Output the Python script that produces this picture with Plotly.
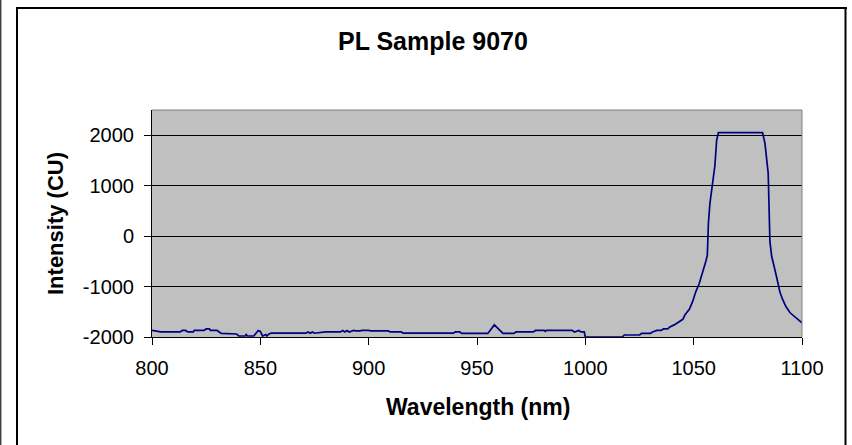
import plotly.graph_objects as go

# Data
wavelength = [800, 802, 804, 813, 814, 815.5, 816.5, 819, 819.5, 824, 825, 826.5, 827, 830,
              832, 839, 840, 843, 843.5, 844, 847, 849, 850, 851, 852.5, 853, 854, 855,
              871, 872, 873, 874, 875, 880, 887, 888, 889, 890, 891, 893, 894, 896, 897,
              900, 901, 909, 910, 915, 916, 917, 933, 939, 940, 942, 943, 955, 958, 961,
              962, 967, 968, 976, 977, 981, 981.5, 982, 985, 994, 995, 996, 997, 998,
              999.5, 1000, 1017, 1018, 1025, 1026, 1030, 1031, 1033, 1035, 1036, 1038,
              1039, 1041, 1043, 1045, 1046, 1048, 1049.5, 1051, 1052.5, 1054, 1055.5,
              1056.3, 1056.8, 1057.5, 1059, 1059.8, 1060.6, 1061.4, 1081.8, 1082.9,
              1084.4, 1084.8, 1085.2, 1086, 1087, 1088, 1089, 1089.8, 1091, 1092.5,
              1094.5, 1097.6, 1100]
intensity = [-1870, -1880, -1900, -1900, -1870, -1870, -1900, -1900, -1870, -1870, -1840,
             -1840, -1870, -1870, -1930, -1940, -1980, -1980, -1950, -1980, -1980, -1870,
             -1890, -1980, -1950, -1980, -1940, -1925, -1925, -1900, -1925, -1900, -1925,
             -1900, -1900, -1870, -1900, -1870, -1900, -1870, -1880, -1880, -1870, -1870,
             -1880, -1880, -1900, -1900, -1925, -1925, -1925, -1925, -1900, -1900, -1930,
             -1930, -1760, -1900, -1930, -1930, -1900, -1900, -1870, -1870, -1890, -1870,
             -1870, -1870, -1900, -1890, -1870, -1900, -1900, -2000, -2000, -1960, -1960,
             -1930, -1930, -1900, -1870, -1870, -1840, -1840, -1800, -1760, -1700, -1650,
             -1560, -1450, -1300, -1100, -950, -750, -520, -380, 250, 650, 1100, 1400,
             1900, 2050, 2050, 1840, 1245, 385, -110, -400, -560, -760, -950, -1110,
             -1250, -1390, -1520, -1640, -1720]

title_text = "PL Sample 9070"
x_title = "Wavelength (nm)"
y_title = "Intensity (CU)"
x_ticks = [800, 850, 900, 950, 1000, 1050, 1100]
y_ticks = [-2000, -1000, 0, 1000, 2000]

W, H = 852, 445
L, R, T, B = 152, 802, 110, 337
pw, ph = R - L, B - T


def px(x):
    return (x - L) / pw


def py(y):
    return (B - y) / ph


FONT = "Liberation Sans, Arial, sans-serif"

fig = go.Figure()
fig.add_trace(go.Scatter(x=wavelength, y=intensity, mode="lines",
                         line=dict(color="#000080", width=1.7), showlegend=False,
                         cliponaxis=True))

fig.update_layout(
    width=W, height=H, autosize=False,
    margin=dict(l=L, r=W - R, t=T, b=H - B, pad=0),
    paper_bgcolor="white", plot_bgcolor="#C0C0C0",
    font=dict(family=FONT, color="black", size=20),
    showlegend=False,
)

fig.update_xaxes(range=[800, 1100], tickvals=x_ticks, ticktext=[str(v) for v in x_ticks],
                 ticks="outside", ticklen=7, tickcolor="black", tickwidth=1,
                 showline=True, linecolor="black", linewidth=1, showgrid=False,
                 zeroline=False, tickfont=dict(size=20, family=FONT), ticklabelstandoff=6)
fig.update_yaxes(range=[-2000, 2500], tickvals=y_ticks, ticktext=[str(v) for v in y_ticks],
                 ticks="outside", ticklen=7, tickcolor="black", tickwidth=1,
                 showline=True, linecolor="black", linewidth=1, showgrid=True,
                 gridcolor="black", gridwidth=1, zeroline=False,
                 tickfont=dict(size=20, family=FONT), ticklabelstandoff=6)


def seg(x0, y0, x1, y1, color, width):
    return dict(type="line", xref="paper", yref="paper", x0=px(x0), x1=px(x1),
                y0=py(y0), y1=py(y1), line=dict(color=color, width=width), layer="above")


shapes = [
    # plot area border (top and right) in gray
    dict(type="line", xref="paper", yref="paper", x0=0, x1=1, y0=1, y1=1,
         line=dict(color="#808080", width=1)),
    dict(type="line", xref="paper", yref="paper", x0=1, x1=1, y0=0, y1=1,
         line=dict(color="#808080", width=1)),
    # outer chart border
    seg(16, 8, 847, 8, "black", 2),
    seg(17, 7, 17, 450, "black", 2),
    seg(845.5, 7, 845.5, 450, "black", 2),
    # left page edge line
    seg(0.7, -5, 0.7, 450, "#404040", 1.5),
]
fig.update_layout(shapes=shapes)

annotations = [
    dict(text=title_text, xref="paper", yref="paper", x=px(433), y=py(41),
         xanchor="center", yanchor="middle", showarrow=False,
         font=dict(size=25, family=FONT, weight="bold", color="black")),
    dict(text=x_title, xref="paper", yref="paper", x=px(478), y=py(407),
         xanchor="center", yanchor="middle", showarrow=False,
         font=dict(size=23, family=FONT, weight="bold", color="black")),
    dict(text=y_title, xref="paper", yref="paper", x=px(55), y=py(224),
         xanchor="center", yanchor="middle", showarrow=False, textangle=-90,
         font=dict(size=22, family=FONT, weight="bold", color="black")),
]
fig.update_layout(annotations=annotations)

fig.write_html("out.html", config={"displayModeBar": False},
               post_script="document.body.style.margin='0';")
